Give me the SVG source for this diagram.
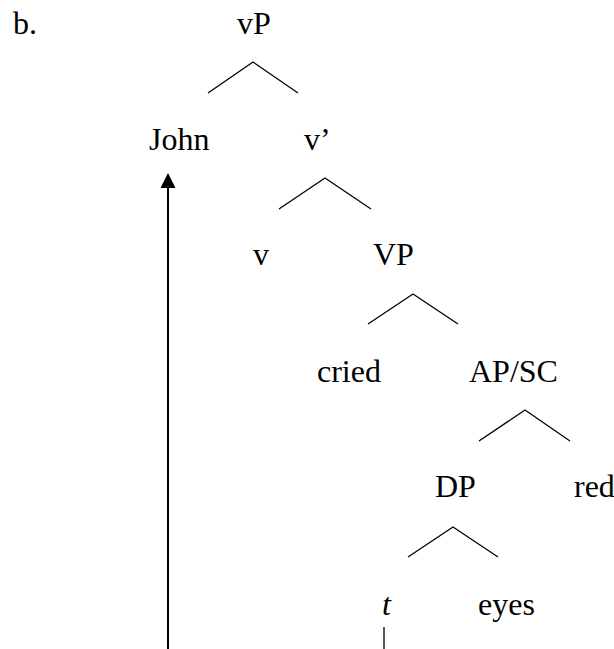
<svg xmlns="http://www.w3.org/2000/svg" width="614" height="649" viewBox="0 0 614 649" font-family="Liberation Serif, Tinos, Times New Roman, DejaVu Serif, serif">
<style>
text { font-family: "Liberation Serif", Tinos, "Times New Roman", "DejaVu Serif", serif; font-size: 32px; fill: #000; }
.br { stroke: #000; stroke-width: 1.3; fill: none; }
.mv { stroke: #000; stroke-width: 2; fill: none; }
</style>
<rect width="614" height="649" fill="#fff"/>
<text x="13" y="34">b.</text>
<g id="vP"><text x="237" y="34">vP</text></g>
<g id="John"><text x="149" y="150">John</text></g>
<g id="vbar"><text x="304" y="150">v’</text></g>
<g id="v"><text x="253" y="265">v</text></g>
<g id="VP"><text x="373" y="265">VP</text></g>
<g id="cried"><text x="317" y="382">cried</text></g>
<g id="APSC"><text x="469" y="382">AP/SC</text></g>
<g id="DP"><text x="435" y="497">DP</text></g>
<g id="red"><text x="574" y="497">red</text></g>
<g id="t"><text x="382" y="615" font-style="italic">t</text></g>
<g id="eyes"><text x="478" y="615">eyes</text></g>
<g id="connectors">
<polyline class="br" points="208,93 253,62 298,93"/>
<polyline class="br" points="279,209 325,178 371,209"/>
<polyline class="br" points="368,324 413,294 458,324"/>
<polyline class="br" points="479,441 525,410 570,441"/>
<polyline class="br" points="408,557 453,527 498,557"/>
<line class="mv" x1="168" y1="649" x2="168" y2="186"/>
<polygon points="168,173 160.5,188 175.5,188" fill="#000"/>
<line class="br" x1="384" y1="627" x2="384" y2="649"/>
</g>
</svg>
